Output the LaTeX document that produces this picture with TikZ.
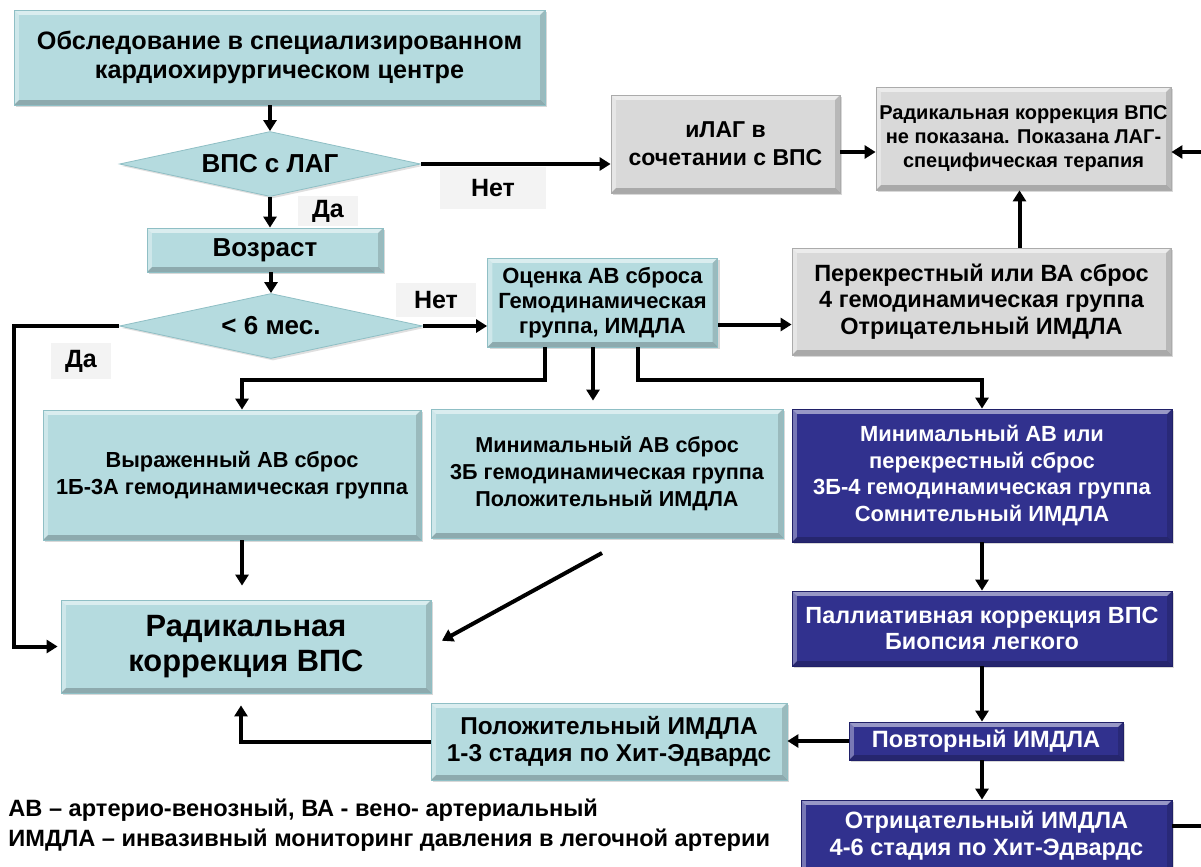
\documentclass[tikz,border=0pt]{standalone}
\usepackage{fontspec}
\setmainfont{Liberation Sans}
\usetikzlibrary{shapes.geometric,arrows.meta,shadows}
\definecolor{tealbox}{HTML}{B5DBDF}
\definecolor{tealedge}{HTML}{8FBFC5}
\definecolor{graybox}{HTML}{D9D9D9}
\definecolor{grayedge}{HTML}{ABABAB}
\definecolor{bluebox}{HTML}{31318E}
\definecolor{blueedge}{HTML}{202068}
\definecolor{lblbg}{HTML}{F3F3F3}
\newlength\bev \setlength\bev{2.4pt}
\newcommand\fs[2]{\fontsize{#1}{#2}\selectfont}
\tikzset{
 bevel/.style={path picture={
  \fill[white,opacity=.5] (path picture bounding box.north west) -- (path picture bounding box.north east) -- ([xshift=-\bev,yshift=-\bev]path picture bounding box.north east) -- ([xshift=\bev,yshift=-\bev]path picture bounding box.north west) -- cycle;
  \fill[white,opacity=.35] (path picture bounding box.north west) -- (path picture bounding box.south west) -- ([xshift=\bev,yshift=\bev]path picture bounding box.south west) -- ([xshift=\bev,yshift=-\bev]path picture bounding box.north west) -- cycle;
  \fill[black,opacity=.22] (path picture bounding box.south west) -- (path picture bounding box.south east) -- ([xshift=-\bev,yshift=\bev]path picture bounding box.south east) -- ([xshift=\bev,yshift=\bev]path picture bounding box.south west) -- cycle;
  \fill[black,opacity=.15] (path picture bounding box.north east) -- (path picture bounding box.south east) -- ([xshift=-\bev,yshift=\bev]path picture bounding box.south east) -- ([xshift=-\bev,yshift=-\bev]path picture bounding box.north east) -- cycle;
 }},
 basebox/.style={rectangle, bevel, inner sep=0pt, align=center, line width=.4pt,
   drop shadow={opacity=.3,shadow xshift=1pt,shadow yshift=-1.2pt}},
 tbox/.style={basebox, fill=tealbox, draw=tealedge, text=black},
 gbox/.style={basebox, fill=graybox, draw=grayedge, text=black},
 bbox/.style={basebox, fill=bluebox, draw=blueedge, text=white},
 dia/.style={diamond, aspect=4.5, fill=tealbox, draw=tealedge, inner sep=0pt, line width=.4pt,
   font=\bfseries\fs{13}{15}, drop shadow={opacity=.25,shadow xshift=1pt,shadow yshift=-1pt}},
 lbl/.style={fill=lblbg, inner sep=0pt, font=\bfseries\fs{12.5}{14}},
 arr/.style={line width=2pt, -{Triangle[width=6.5pt,length=5.5pt]}},
 ln/.style={line width=2pt},
}
\begin{document}
\begin{tikzpicture}[x=0.5pt,y=-0.5pt]
\clip (0,0) rectangle (1201,867);
\fill[white] (0,0) rectangle (1201,867);

% labels (backgrounds)
\node[lbl, minimum width=53pt, minimum height=21pt] (no1) at (493,188) {Нет};
\node[lbl, minimum width=30pt, minimum height=15pt] (da1) at (328,211) {Да};
\node[lbl, minimum width=40pt, minimum height=17pt] (no2) at (436,300) {Нет};
\node[lbl, minimum width=30pt, minimum height=18pt] (da2) at (81,361) {Да};

% boxes
\node[tbox, minimum width=265.5pt, minimum height=47.5pt, font=\bfseries\fs{12.6}{14.5}] (top) at (279.5,57.5)
  {Обследование в специализированном\\кардиохирургическом центре};
\node[dia, minimum width=150.5pt, minimum height=32.5pt] (d1) at (270,164) {ВПС с ЛАГ};
\node[tbox, minimum width=118pt, minimum height=22pt, font=\bfseries\fs{13}{15}] (vozr) at (265,250) {Возраст};
\node[dia, minimum width=151.5pt, minimum height=32.5pt] (d2) at (271,326) {< 6 мес.};
\node[tbox, minimum width=115pt, minimum height=44.5pt, font=\bfseries\fs{11}{12.5}] (ocenka) at (602.5,302.5)
  {Оценка АВ сброса\\Гемодинамическая\\группа, ИМДЛА};
\node[gbox, minimum width=114.5pt, minimum height=49pt, font=\bfseries\fs{11.5}{14}] (ilag) at (725.5,144)
  {иЛАГ в\\сочетании с ВПС};
\node[gbox, minimum width=147.5pt, minimum height=51.5pt, font=\bfseries\fs{10}{12}] (radneg) at (1023.5,138.5)
  {Радикальная коррекция ВПС\\не показана. Показана ЛАГ-\\специфическая терапия};
\node[gbox, minimum width=189.5pt, minimum height=53.5pt, font=\bfseries\fs{11.75}{13.2}] (perek) at (981.5,301.5)
  {Перекрестный или ВА сброс\\4 гемодинамическая группа\\Отрицательный ИМДЛА};
\node[tbox, minimum width=189pt, minimum height=65pt, font=\bfseries\fs{10.9}{13.5}] (vyr) at (232,475)
  {Выраженный АВ сброс\\1Б-3А гемодинамическая группа};
\node[tbox, minimum width=176pt, minimum height=64.5pt, font=\bfseries\fs{10.8}{13.5}] (minim) at (607,473.5)
  {Минимальный АВ сброс\\3Б гемодинамическая группа\\Положительный ИМДЛА};
\node[bbox, minimum width=190pt, minimum height=66.5pt, font=\bfseries\fs{10.95}{13.3}] (blue1) at (982,475.5)
  {Минимальный АВ или\\перекрестный сброс\\3Б-4 гемодинамическая группа\\Сомнительный ИМДЛА};
\node[bbox, minimum width=190pt, minimum height=37.5pt, font=\bfseries\fs{11.7}{13}] (pall) at (982,628.5)
  {Паллиативная коррекция ВПС\\Биопсия легкого};
\node[bbox, minimum width=137pt, minimum height=19pt, font=\bfseries\fs{11.8}{13}] (povt) at (986,741)
  {Повторный ИМДЛА};
\node[bbox, minimum width=185.5pt, minimum height=36pt, font=\bfseries\fs{11.8}{13.5}] (otr) at (986.5,836)
  {Отрицательный ИМДЛА\\4-6 стадия по Хит-Эдвардс};
\node[tbox, minimum width=185pt, minimum height=46.5pt, font=\bfseries\fs{15.4}{17.5}] (rad) at (246,646.5)
  {Радикальная\\коррекция ВПС};
\node[tbox, minimum width=178pt, minimum height=38.5pt, font=\bfseries\fs{12.2}{13.5}] (pol) at (609,741.5)
  {Положительный ИМДЛА\\1-3 стадия по Хит-Эдвардс};

% legend
\node[anchor=west, inner sep=0pt, font=\bfseries\fs{11.8}{13}] (leg1) at (8,810)
  {АВ – артерио-венозный, ВА - вено- артериальный};
\node[anchor=west, inner sep=0pt, font=\bfseries\fs{11.8}{13}] (leg2) at (8,840)
  {ИМДЛА – инвазивный мониторинг давления в легочной артерии};

% helper coordinates
\coordinate (lft) at (14,0);
\coordinate (ox1) at (545,0);
\coordinate (ox2) at (593,0);
\coordinate (ox3) at (638,0);
\coordinate (jy) at (0,380);
\coordinate (redge) at (1201,152);
\coordinate (redge2) at (1201,826);
\coordinate (diag) at (602,553);

% connectors
\draw[arr] (d1.north |- top.south) -- (d1.north);
\draw[arr] (d1.east) -- (d1.east -| ilag.west);
\draw[arr] (d1.south) -- (d1.south |- vozr.north);
\draw[arr] (d2.north |- vozr.south) -- (d2.north);
\draw[arr] (d2.east) -- (d2.east -| ocenka.west);
\draw[arr] (d2.west) -- (d2.west -| lft) -- (lft |- rad.west) -- ([xshift=-1.5pt]rad.west);
\draw[arr] ([yshift=-11pt]ocenka.east) -- ([yshift=-11pt]ocenka.east -| perek.west);
\draw[arr] ([xshift=19pt]perek.north) -- ([xshift=19pt]perek.north |- radneg.south);
\draw[arr] ([yshift=-4pt]ilag.east) -- ([yshift=-4pt]ilag.east -| radneg.west);
\draw[arr] (redge) -- (redge -| radneg.east);
\draw[arr] (ocenka.south -| ox1) -- (ox1 |- jy) -- ([xshift=5pt]vyr.north |- jy) -- ([xshift=5pt]vyr.north);
\draw[arr, shorten >=4pt] (ocenka.south -| ox2) -- (ox2 |- minim.north);
\draw[arr] (ocenka.south -| ox3) -- (ox3 |- jy) -- (blue1.north |- jy) -- (blue1.north);
\draw[arr, shorten >=7pt] ([xshift=5pt]vyr.south) -- ([xshift=5pt]vyr.south |- rad.north);
\draw[arr, shorten >=6pt] (diag) -- (rad.east);
\draw[arr] (blue1.south) -- (pall.north);
\draw[arr] (pall.south) -- (pall.south |- povt.north);
\draw[arr] (povt.south -| pall.south) -- (pall.south |- otr.north);
\draw[arr] (povt.west) -- (povt.west -| pol.east);
\draw[arr, shorten >=6pt] (pol.west) -- ([xshift=-2.5pt]rad.south |- pol.west) -- ([xshift=-2.5pt]rad.south);
\draw[ln] (otr.east |- redge2) -- (redge2);
\end{tikzpicture}
\end{document}
